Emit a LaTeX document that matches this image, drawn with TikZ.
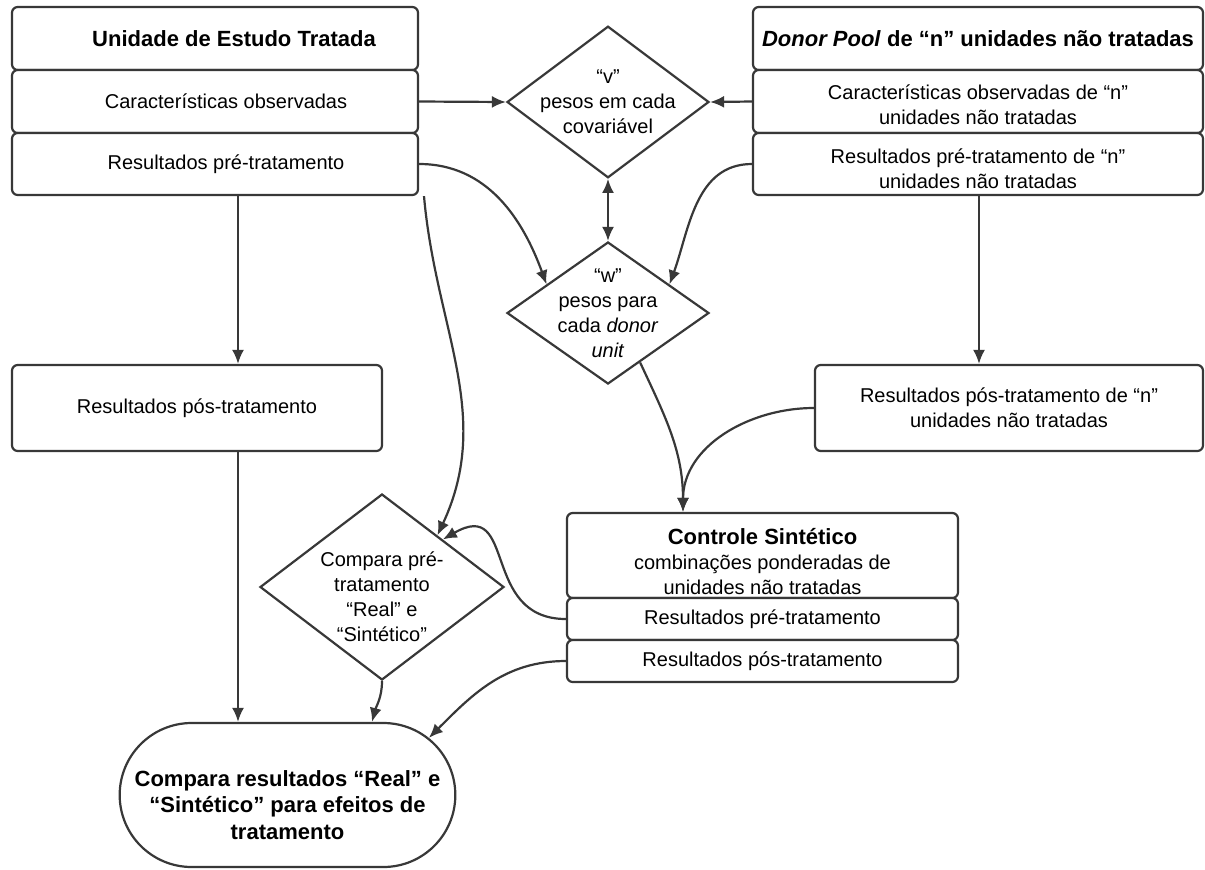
\documentclass[tikz,border=0pt]{standalone}
\usepackage{fontspec}
\setmainfont{Liberation Sans}
\usetikzlibrary{shapes.geometric,shapes.misc,arrows.meta}
\definecolor{lineGray}{gray}{0.22}
\tikzset{
  part/.style={rectangle, rounded corners=1mm, fill=white, draw=lineGray, line width=1.1pt, align=center, inner sep=1pt},
  headPart/.style={part, font=\fontsize{11}{13}\selectfont\bfseries},
  decision/.style={diamond, fill=white, draw=lineGray, line width=1.1pt, align=center, inner sep=-6pt},
  terminal/.style={rounded rectangle, fill=white, draw=lineGray, line width=1.1pt},
  terminalText/.style={align=center, font=\fontsize{11}{13.25}\selectfont\bfseries, yshift=-5pt},
  applyOp/.style={-{Latex[length=7pt,width=6pt]}, draw=lineGray, line width=1.1pt},
  bothOp/.style={{Latex[length=7pt,width=6pt]}-{Latex[length=7pt,width=6pt]}, draw=lineGray, line width=1.1pt}
}
\begin{document}
\begin{tikzpicture}[x=0.5pt, y=0.5pt, font=\fontsize{10}{12.5}\selectfont]
  \useasboundingbox (0,0) rectangle (1205,-869);
  % unidade tratada
  \node [headPart, minimum width=203pt, minimum height=31.5pt] (lhead) at (215,-38.5) {\hspace*{19pt}Unidade de Estudo Tratada};
  \node [part, minimum width=203pt, minimum height=31.5pt] (lchar) at (215,-101.5) {\hspace*{11pt}Características observadas};
  \node [part, minimum width=203pt, minimum height=31pt] (lpre) at (215,-164) {\hspace*{11pt}Resultados pré-tratamento};
  % donor pool
  \node [headPart, minimum width=225pt, minimum height=31.5pt] (rhead) at (978,-38.5) {\textit{Donor Pool} de “n” unidades não tratadas};
  \node [part, minimum width=225pt, minimum height=31.5pt] (rchar) at (978,-101.5) {\rule{0pt}{11pt}Características observadas de “n”\\unidades não tratadas};
  \node [part, minimum width=225pt, minimum height=31pt] (rpre) at (978,-164) {\rule{0pt}{12pt}Resultados pré-tratamento de “n”\\unidades não tratadas};
  % pesos
  \node [decision, minimum width=101pt, minimum height=71pt] (v) at (608,-102) {“v”\\pesos em cada\\covariável};
  \node [decision, minimum width=101pt, minimum height=71pt] (w) at (608,-313) {“w”\\pesos para\\cada \textit{donor}\\\textit{unit}};
  % pos-tratamento
  \node [part, minimum width=185pt, minimum height=43pt] (lpos) at (197,-408) {Resultados pós-tratamento};
  \node [part, minimum width=194pt, minimum height=43pt] (rpos) at (1009,-408) {Resultados pós-tratamento de “n”\\unidades não tratadas};
  % controle sintetico
  \node [part, minimum width=195.5pt, minimum height=42.5pt] (ctrl) at (762.5,-555.5) {\rule{0pt}{14pt}{\fontsize{11}{13}\selectfont\bfseries Controle Sintético}\\combinações ponderadas de\\unidades não tratadas};
  \node [part, minimum width=195.5pt, minimum height=21pt] (ctrlpre) at (762.5,-619) {Resultados pré-tratamento};
  \node [part, minimum width=195.5pt, minimum height=21pt] (ctrlpos) at (762.5,-661) {Resultados pós-tratamento};
  % comparacoes
  \node [decision, minimum width=122pt, minimum height=93pt] (cmpd) at (382,-587) {\rule{0pt}{17pt}Compara pré-\\tratamento\\“Real” e\\“Sintético”};
  \node [terminal, minimum width=174.5pt, minimum height=72pt,
         label={[terminalText]center:Compara resultados “Real” e\\“Sintético” para efeitos de\\tratamento}] (cmp) at (287.5,-795) {};
  % colunas das setas
  \coordinate (colL) at (238,0);
  \coordinate (colM) at (424,0);
  \coordinate (colR) at (979,0);
  \coordinate (colC) at (683,0);
  \coordinate (colK) at (372,0);
  \draw [applyOp] (lchar.east) -- (v.west);
  \draw [applyOp] (rchar.west) -- (v.east);
  \draw [bothOp] (v.south) -- (w.north);
  \draw [applyOp] (lpre.east) to[out=0, in=110] (w.155);
  \draw [applyOp] (rpre.west) to[out=180, in=70] (w.25);
  \draw [applyOp] (lpre.south -| colL) -- (lpos.north -| colL);
  \draw [applyOp] (rpre.south -| colR) -- (rpos.north -| colR);
  \draw [applyOp] (lpos.south -| colL) -- (cmp.north -| colL);
  \draw [applyOp] (w.-57) to[out=-65, in=90] (ctrl.north -| colC);
  \draw [applyOp] (rpos.west) to[out=180, in=90] (ctrl.north -| colC);
  \draw [applyOp] (lpre.south -| colM) to[out=-85, in=65] (cmpd.43);
  \draw [applyOp] (ctrlpre.west) to[out=180, in=30, looseness=1.5] (cmpd.38);
  \draw [applyOp] (cmpd.south) to[out=-90, in=75] (cmp.north -| colK);
  \draw [applyOp] (ctrlpos.west) to[out=180, in=45] (cmp.22);
\end{tikzpicture}
\end{document}
